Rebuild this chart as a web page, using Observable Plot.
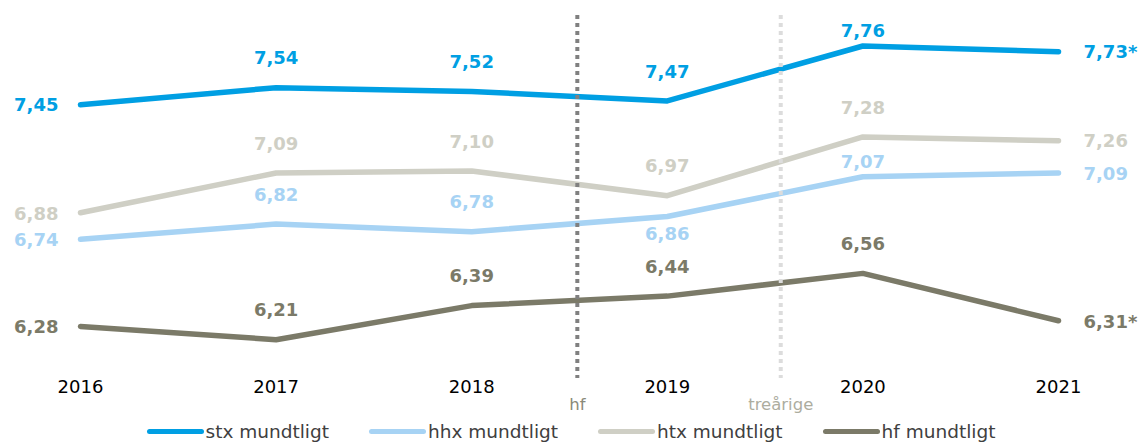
<!DOCTYPE html>
<html>
<head>
<meta charset="utf-8">
<script src="https://cdn.jsdelivr.net/npm/d3@7"></script>
<script src="https://cdn.jsdelivr.net/npm/@observablehq/plot@0.6"></script>
<style>
  html, body { margin: 0; padding: 0; background: #fff; }
  body { width: 1142px; height: 444px; overflow: hidden; font-family: "DejaVu Sans", Verdana, sans-serif; }
  #legend { display: flex; justify-content: center; align-items: center; gap: 40px; height: 30px; padding-top: 4px; box-sizing: border-box; font-size: 18.5px; color: #404040; }
  .item { display: flex; align-items: center; }
  .sw { display: inline-block; width: 57px; height: 5px; border-radius: 3px; margin-right: 2px; }
</style>
</head>
<body>
<div id="chart"></div>
<div id="legend"></div>
<script>
// ---- data ----
const years = [2016, 2017, 2018, 2019, 2020, 2021];
const seriesNames = ["stx mundtligt", "hhx mundtligt", "htx mundtligt", "hf mundtligt"];
const stxValues = [7.45, 7.54, 7.52, 7.47, 7.76, 7.73];
const hhxValues = [6.74, 6.82, 6.78, 6.86, 7.07, 7.09];
const htxValues = [6.88, 7.09, 7.10, 6.97, 7.28, 7.26];
const hfValues  = [6.28, 6.21, 6.39, 6.44, 6.56, 6.31];
const stxNotes = ["", "", "", "", "", "*"];
const hhxNotes = ["", "", "", "", "", ""];
const htxNotes = ["", "", "", "", "", ""];
const hfNotes  = ["", "", "", "", "", "*"];
const dividerYears = [2018.54, 2019.58];
const dividerLabels = ["hf", "treårige"];

// ---- styles ----
const colors = ["#009fe3", "#a7d3f4", "#cfcfc5", "#7b7a68"];
const dividerColors = ["#808080", "#dcdcdc"];
const dividerLabelColors = ["#8a8a79", "#adad9f"];
// label placement per series (L = left, R = right, A = above, N = above near, B = below)
const stxPlace = ["L", "A", "A", "A", "N", "R"];
const hhxPlace = ["L", "A", "A", "B", "N", "R"];
const htxPlace = ["L", "A", "A", "A", "A", "R"];
const hfPlace  = ["L", "A", "A", "A", "A", "R"];
const placeStyle = {
  L: {textAnchor: "end", dx: -22, dy: 1},
  R: {textAnchor: "start", dx: 25, dy: 1},
  A: {textAnchor: "middle", dy: -29},
  N: {textAnchor: "middle", dy: -15},
  B: {textAnchor: "middle", dy: 18}
};

const seriesValues = [stxValues, hhxValues, htxValues, hfValues];
const seriesNotes = [stxNotes, hhxNotes, htxNotes, hfNotes];
const seriesPlace = [stxPlace, hhxPlace, htxPlace, hfPlace];

const fmt = d3.format(".2f");
const rows = [];
seriesNames.forEach((name, si) => {
  years.forEach((yr, i) => {
    rows.push({
      series: name, si, year: yr, value: seriesValues[si][i],
      label: fmt(seriesValues[si][i]).replace(".", ",") + seriesNotes[si][i],
      place: seriesPlace[si][i]
    });
  });
});
const dividers = dividerYears.map((x, i) => ({x, label: dividerLabels[i], i}));

const marks = [];
// lines
seriesNames.forEach((name, si) => {
  marks.push(Plot.line(rows.filter(d => d.si === si), {
    x: "year", y: "value", stroke: colors[si], strokeWidth: 5.5, strokeLinecap: "round"
  }));
});
// dividers
dividers.forEach((d, i) => {
  marks.push(Plot.ruleX([d], {x: "x", stroke: dividerColors[i], strokeWidth: 4, strokeDasharray: "4,4"}));
  marks.push(Plot.text([d], {x: "x", text: "label", frameAnchor: "bottom", dy: 31, fill: dividerLabelColors[i], fontSize: 16.5, textAnchor: "middle"}));
});
// value labels
Object.entries(placeStyle).forEach(([key, st]) => {
  marks.push(Plot.text(rows.filter(d => d.place === key), {
    x: "year", y: "value", text: "label", fill: d => colors[d.si],
    fontSize: 18, fontWeight: "bold", ...st
  }));
});
// x axis
marks.push(Plot.axisX(years, {tickSize: 0, tickPadding: 2, tickFormat: d => String(d), fontSize: 18, fill: "#000", color: "#000"}));

const chart = Plot.plot({
  width: 1142,
  height: 414,
  marginLeft: 80,
  marginRight: 84,
  marginTop: 15,
  marginBottom: 36,
  style: {fontFamily: "'DejaVu Sans', Verdana, sans-serif", background: "#fff", color: "#000", overflow: "visible"},
  x: {domain: [2016, 2021], range: [80, 1058], label: null},
  y: {domain: [6, 8], range: [379, 0], axis: null},
  marks
});
document.getElementById("chart").appendChild(chart);

// legend
const legend = document.getElementById("legend");
seriesNames.forEach((name, si) => {
  const it = document.createElement("div");
  it.className = "item";
  const sw = document.createElement("span");
  sw.className = "sw";
  sw.style.background = colors[si];
  const tx = document.createElement("span");
  tx.textContent = name;
  it.appendChild(sw); it.appendChild(tx);
  legend.appendChild(it);
});
</script>
</body>
</html>
